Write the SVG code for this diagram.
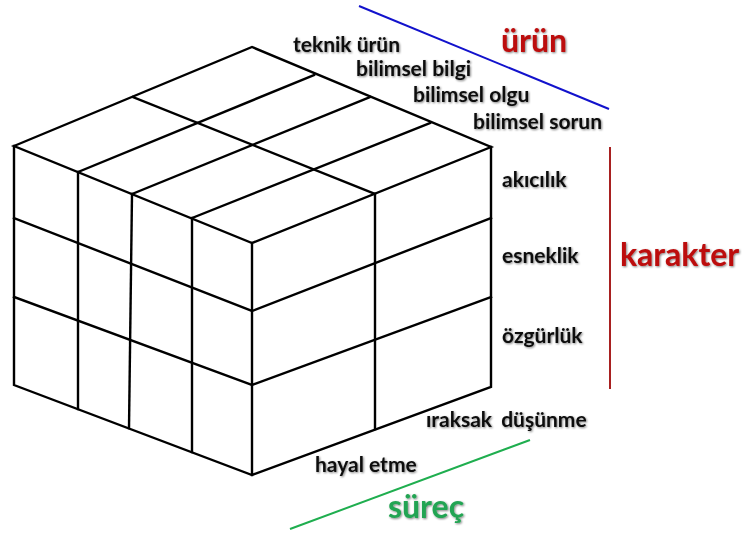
<svg xmlns="http://www.w3.org/2000/svg" width="744" height="533" viewBox="0 0 744 533">
<defs>
<filter id="sh" x="-10%" y="-30%" width="120%" height="160%">
<feGaussianBlur in="SourceAlpha" stdDeviation="1.2" result="b"/>
<feOffset in="b" dx="1" dy="1" result="o"/>
<feComponentTransfer in="o" result="s"><feFuncA type="linear" slope="0.5"/></feComponentTransfer>
<feMerge><feMergeNode in="s"/><feMergeNode in="SourceGraphic"/></feMerge>
</filter>
</defs>
<style>
.c{fill:none;stroke:#000;stroke-width:2.4;stroke-linejoin:miter;stroke-linecap:square}
.t{font-family:Lato,"Open Sans","Liberation Sans",sans-serif;font-weight:bold;font-size:21px;fill:#111;filter:url(#sh)}
.big{font-family:Lato,"Open Sans","Liberation Sans",sans-serif;font-weight:bold;font-size:32px;filter:url(#sh)}
.red{fill:#BC0A0A}
.grn{fill:#22A452}
</style>
<rect width="744" height="533" fill="#fff"/>
<g id="cube" class="c">
<path d="M14,146 L252,47 L491,147 L252,243 Z"/>
<path d="M14,146 L14,385 L252,475 L491,387 L491,147"/>
<path d="M252,243 L252,475"/>
<path d="M133,97 L375,194"/>
<path d="M78,172 L314,75"/>
<path d="M132,194 L370,97"/>
<path d="M192,218 L430,123"/>
<path d="M78,172 L78,409"/>
<path d="M132,194 L129,428"/>
<path d="M192,218 L192,452"/>
<path d="M14,218 L252,311"/>
<path d="M14,297 L252,385"/>
<path d="M375,194 L375,429"/>
<path d="M252,311 L491,218"/>
<path d="M252,385 L491,297"/>
</g>
<g id="axes">
<line id="axis-urun" x1="359" y1="6" x2="609" y2="109" stroke="#1212CC" stroke-width="2"/>
<line id="axis-karakter" x1="610" y1="147" x2="610" y2="389" stroke="#A82020" stroke-width="2"/>
<line id="axis-surec" x1="290" y1="529" x2="530" y2="440" stroke="#1FAE4F" stroke-width="2"/>
</g>
<g id="labels">
<g id="l-teknik"><text class="t" x="293" y="52">teknik ürün</text></g>
<g id="l-bilgi"><text class="t" x="356" y="76">bilimsel bilgi</text></g>
<g id="l-olgu"><text class="t" x="413" y="102">bilimsel olgu</text></g>
<g id="l-sorun"><text class="t" x="473" y="129">bilimsel sorun</text></g>
<g id="l-akicilik"><text class="t" x="502" y="187">akıcılık</text></g>
<g id="l-esneklik"><text class="t" x="502" y="263">esneklik</text></g>
<g id="l-ozgurluk"><text class="t" x="502" y="343">özgürlük</text></g>
<g id="l-iraksak"><text class="t" x="426" y="427" word-spacing="4">ıraksak düşünme</text></g>
<g id="l-hayal"><text class="t" x="315" y="472">hayal etme</text></g>
<g id="l-urun"><text class="big red" x="501" y="52">ürün</text></g>
<g id="l-karakter"><text class="big red" x="620" y="266">karakter</text></g>
<g id="l-surec"><text class="big grn" x="388" y="518">süreç</text></g>
</g>
</svg>
